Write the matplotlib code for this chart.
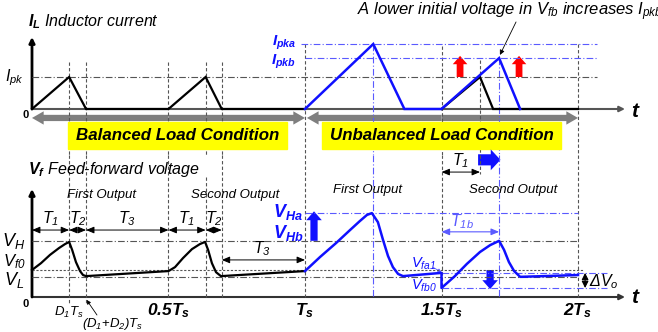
import matplotlib
matplotlib.use("Agg")
import matplotlib.pyplot as plt
from matplotlib.patches import FancyArrowPatch, Rectangle

plt.rcParams["font.family"] = ["Liberation Sans", "DejaVu Sans"]
plt.rcParams["mathtext.fontset"] = "custom"
plt.rcParams["mathtext.rm"] = "Liberation Sans:italic"
plt.rcParams["mathtext.it"] = "Liberation Sans:italic"
plt.rcParams["mathtext.bf"] = "Liberation Sans:italic:bold"

# ---- data (time in Ts, current in Ipk, voltage in arbitrary units) ----
t_il_bal = [0, 0.136, 0.198, 0.5, 0.636, 0.695, 1.0]
il_bal = [0, 1, 0, 0, 1, 0, 0]
t_il_unb = [1.0, 1.25, 1.364, 1.5, 1.711, 1.788]
il_unb = [0, 2.03, 0, 0, 1.59, 0]
t_il_ref = [1.5, 1.641, 1.689, 2.0]
il_ref = [0, 1, 0, 0]

t_vf_bal = [0, 0.033, 0.066, 0.099, 0.121, 0.136,
            0.147, 0.161, 0.176, 0.187, 0.198,
            0.5, 0.524, 0.553, 0.586, 0.615, 0.634,
            0.645, 0.659, 0.674, 0.692, 1.0]
vf_bal = [0.75, 0.94, 1.17, 1.36, 1.47, 1.53,
          1.31, 0.97, 0.72, 0.61, 0.58,
          0.72, 0.83, 1.08, 1.33, 1.47, 1.53,
          1.31, 0.94, 0.69, 0.58, 0.72]
t_vf_unb = [1.0, 1.055, 1.114, 1.165, 1.201, 1.227, 1.245,
            1.267, 1.286, 1.304, 1.322, 1.341, 1.359,
            1.5, 1.5, 1.549, 1.593, 1.641, 1.678, 1.711,
            1.729, 1.747, 1.766, 1.788, 2.0]
vf_unb = [0.72, 1.11, 1.50, 1.86, 2.11, 2.28, 2.33,
          2.08, 1.58, 1.14, 0.83, 0.64, 0.58,
          0.67, 0.25, 0.58, 0.92, 1.25, 1.44, 1.56,
          1.31, 0.97, 0.72, 0.56, 0.61]

IPKA, IPKB = 2.03, 1.59
VH, VF0, VL, VHA, VFA1, VFB0 = 1.56, 0.75, 0.56, 2.33, 0.67, 0.25

BLUE = "#1010ff"
LBLUE = "#5a5aff"
GREY = "#555555"

fig = plt.figure(figsize=(6.58, 3.32), dpi=100)
top = fig.add_axes([0, 177 / 332, 1, 155 / 332])
bot = fig.add_axes([0, 0, 1, 177 / 332])
for ax in (top, bot):
    ax.set_xlim(-0.1172, 2.293)
    ax.axis("off")
top.set_ylim(-1.4375, 3.406)
bot.set_ylim(-0.972, 3.944)

dash = dict(color=GREY, lw=0.8, ls=(0, (3, 2)))
ddot = dict(color=GREY, lw=0.8, ls=(0, (6, 2, 1, 2)))
bdot = dict(color=LBLUE, lw=0.8, ls=(0, (6, 2, 1, 2)))


def arrow(ax, p0, p1, style, color, ms, lw=0.8, **kw):
    ax.add_patch(FancyArrowPatch(p0, p1, arrowstyle=style, color=color,
                                 mutation_scale=ms, lw=lw, clip_on=False,
                                 shrinkA=0, shrinkB=0, **kw))


def block(ax, p0, p1, color, ms=7):
    arrow(ax, p0, p1, "simple,head_length=0.8,head_width=1.4,tail_width=0.65",
          color, ms, lw=0)


# ================= top: inductor current =================
for x, y0 in [(0.136, 1.47), (0.198, 1.47), (0.5, 1.47), (0.636, 1.47),
              (0.695, 1.47), (1.0, 2.03), (1.5, 1.97), (1.641, 1.53), (2.0, 2.03)]:
    top.plot([x, x], [y0, -1.44], **dash)
for x, y0 in [(1.25, 2.03), (1.711, 1.59)]:
    top.plot([x, x], [y0, -1.44], **bdot)
top.plot([0, 2.07], [1, 1], **ddot)
top.plot([0.985, 2.07], [IPKA, IPKA], **bdot)
top.plot([1.0, 2.07], [IPKB, IPKB], **bdot)

arrow(top, (0, 0), (2.172, 0), "-|>", GREY, 8, lw=1.5)
arrow(top, (0, 0), (0, 2.25), "-|>", "black", 8, lw=2)

top.plot(t_il_ref, il_ref, color="black", lw=1.6, solid_joinstyle="miter", zorder=3)
top.plot(t_il_bal, il_bal, color="black", lw=1.6, solid_joinstyle="miter", zorder=3)
top.plot(t_il_unb, il_unb, color=BLUE, lw=1.8, solid_joinstyle="miter", zorder=4)

for x in (1.568, 1.784):
    block(top, (x, 1.0), (x, 1.66), "red", ms=7.5)

# grey condition arrows
for a, b in [(0.5, 0.0), (0.5, 1.0), (1.5, 1.007), (1.5, 2.0)]:
    arrow(top, (a, -0.28), (b, -0.28),
          "simple,head_length=1.4,head_width=1.6,tail_width=0.75", "#7f7f7f", 6, lw=0)

top.add_patch(Rectangle((0.132, -1.25), 0.802, 0.84, color="#ffff00", zorder=5))
top.add_patch(Rectangle((1.062, -1.25), 0.876, 0.84, color="#ffff00", zorder=5))
top.text(0.533, -0.84, "Balanced Load Condition", ha="center", va="center",
         fontsize=12.2, fontweight="bold", style="italic", zorder=6)
top.text(1.5, -0.84, "Unbalanced Load Condition", ha="center", va="center",
         fontsize=12.2, fontweight="bold", style="italic", zorder=6)

top.text(-0.015, 2.72, r"$\mathbf{I_L}$ Inductor current", fontsize=11.5,
         style="italic", va="center")
top.text(-0.066, 0.97, r"$I_{pk}$", fontsize=11.5, ha="center", va="center")
top.text(-0.012, -0.18, "0", fontsize=8, fontweight="bold", ha="right", va="center")
top.text(0.923, IPKA + 0.05, r"$\mathbf{I_{pka}}$", fontsize=11, color=BLUE,
         ha="center", va="center")
top.text(0.923, IPKB - 0.12, r"$\mathbf{I_{pkb}}$", fontsize=11, color=BLUE,
         ha="center", va="center")
top.text(2.21, -0.08, r"$\mathbf{t}$", fontsize=15, ha="center", va="center")
# the reference lets this sentence run past the right edge
top.text(1.19, 3.03, r"A lower initial voltage in $V_{fb}$ increases $I_{pkb}$",
         fontsize=12, style="italic", va="center", clip_on=False)
arrow(top, (1.773, 2.72), (1.714, 1.69), "-|>", "black", 7, lw=0.6)

# ================= bottom: feed-forward voltage =================
for x in (0.136, 0.198):
    bot.plot([x, x], [3.94, -0.22], **dash)
for x in (0.5, 0.695, 1.0, 1.5, 2.0):
    bot.plot([x, x], [3.94, 0], **dash)
bot.plot([0.636, 0.636], [3.33, 0], **dash)
bot.plot([1.641, 1.641], [3.94, 3.42], **dash)
for x in (1.25, 1.711):
    bot.plot([x, x], [3.94, 0], **bdot)

bot.plot([0, 2.0], [VH, VH], **ddot)
bot.plot([0, 2.02], [VF0, VF0], color=GREY, lw=0.8, ls=(0, (2, 1.5)))
bot.plot([0, 2.0], [VL, VL], **ddot)
bot.plot([1.0, 2.0], [VHA, VHA], **bdot)
bot.plot([1.5, 2.106], [VFA1, VFA1], **bdot)
bot.plot([1.5, 2.106], [VFB0, VFB0], **bdot)

arrow(bot, (0, 0), (2.172, 0), "-|>", "#333333", 8, lw=1.5)
arrow(bot, (0, 0), (0, 3.0), "-|>", "black", 8, lw=2)

bot.plot(t_vf_bal, vf_bal, color="black", lw=1.6, zorder=3)
bot.plot(t_vf_unb, vf_unb, color=BLUE, lw=1.8, zorder=4)

# timing arrows
for a, b, y in [(0, 0.136, 1.86), (0.136, 0.198, 1.86), (0.198, 0.5, 1.86),
                (0.5, 0.636, 1.86), (0.636, 0.695, 1.86), (0.695, 1.0, 1.03),
                (1.5, 1.641, 3.47)]:
    arrow(bot, (a, y), (b, y), "<|-|>,head_length=0.6,head_width=0.25", "black", 8, lw=0.7)
arrow(bot, (1.5, 1.81), (1.711, 1.81), "<|-|>,head_length=0.6,head_width=0.25",
      LBLUE, 8, lw=0.8)
arrow(bot, (2.026, VFA1), (2.026, VFB0), "<|-|>,head_length=0.5,head_width=0.25",
      "black", 8, lw=0.8)

for x, y, s in [(0.066, 2.19, "$T_1$"), (0.167, 2.19, "$T_2$"), (0.348, 2.19, "$T_3$"),
                (0.567, 2.19, "$T_1$"), (0.666, 2.19, "$T_2$"), (0.842, 1.33, "$T_3$"),
                (1.57, 3.8, "$T_1$")]:
    bot.text(x, y, s, fontsize=11.5, ha="center", va="center")
bot.text(1.575, 2.08, "$T_{1b}$", fontsize=11.5, ha="center", va="center", color=LBLUE)

block(bot, (1.033, VH), (1.033, 2.38), BLUE, ms=8)
block(bot, (1.678, 0.75), (1.678, 0.22), BLUE, ms=8)
arrow(bot, (1.634, 3.81), (1.716, 3.81),
      "simple,head_length=0.7,head_width=1.5,tail_width=0.8", BLUE, 10, lw=0)

bot.text(-0.015, 3.53, r"$\mathbf{V_f}$ Feed-forward voltage", fontsize=11.5,
         style="italic", va="center")
for x, y, s in [(0.256, 2.83, "First Output"), (0.744, 2.83, "Second Output"),
                (1.23, 2.97, "First Output"), (1.762, 2.97, "Second Output")]:
    bot.text(x, y, s, fontsize=9.5, style="italic", ha="center", va="center")

bot.text(-0.066, VH, "$V_H$", fontsize=13, ha="center", va="center")
bot.text(-0.066, 0.97, "$V_{f0}$", fontsize=12, ha="center", va="center")
bot.text(-0.066, 0.48, "$V_L$", fontsize=13, ha="center", va="center")
bot.text(-0.012, -0.2, "0", fontsize=8, fontweight="bold", ha="right", va="center")
bot.text(0.938, 2.36, r"$\mathbf{V_{Ha}}$", fontsize=13, color=BLUE, ha="center", va="center")
bot.text(0.938, 1.78, r"$\mathbf{V_{Hb}}$", fontsize=13, color=BLUE, ha="center", va="center")
bot.text(1.436, 0.92, "$V_{fa1}$", fontsize=10.5, color=BLUE, ha="center", va="center")
bot.text(1.436, 0.31, "$V_{fb0}$", fontsize=10.5, color=BLUE, ha="center", va="center")
arrow(bot, (1.47, 0.82), (1.5, 0.69), "-|>", LBLUE, 5, lw=0.6)
bot.text(2.04, 0.42, r"$\Delta V_o$", fontsize=11.5, va="center")

bot.text(0.136, -0.42, "$D_1T_s$", fontsize=9.5, ha="center", va="center")
bot.text(0.297, -0.75, "$(D_1$+$D_2)T_s$", fontsize=9.5, ha="center", va="center")
arrow(bot, (0.238, -0.5), (0.2, -0.08), "-|>", "black", 6, lw=0.6)
for x, s in [(0.5, r"$\mathbf{0.5T_s}$"), (1.0, r"$\mathbf{T_s}$"),
             (1.5, r"$\mathbf{1.5T_s}$"), (2.0, r"$\mathbf{2T_s}$")]:
    bot.text(x, -0.39, s, fontsize=12.5, ha="center", va="center")
bot.text(2.21, -0.02, r"$\mathbf{t}$", fontsize=15, ha="center", va="center")

fig.savefig("out.png", dpi=100)
